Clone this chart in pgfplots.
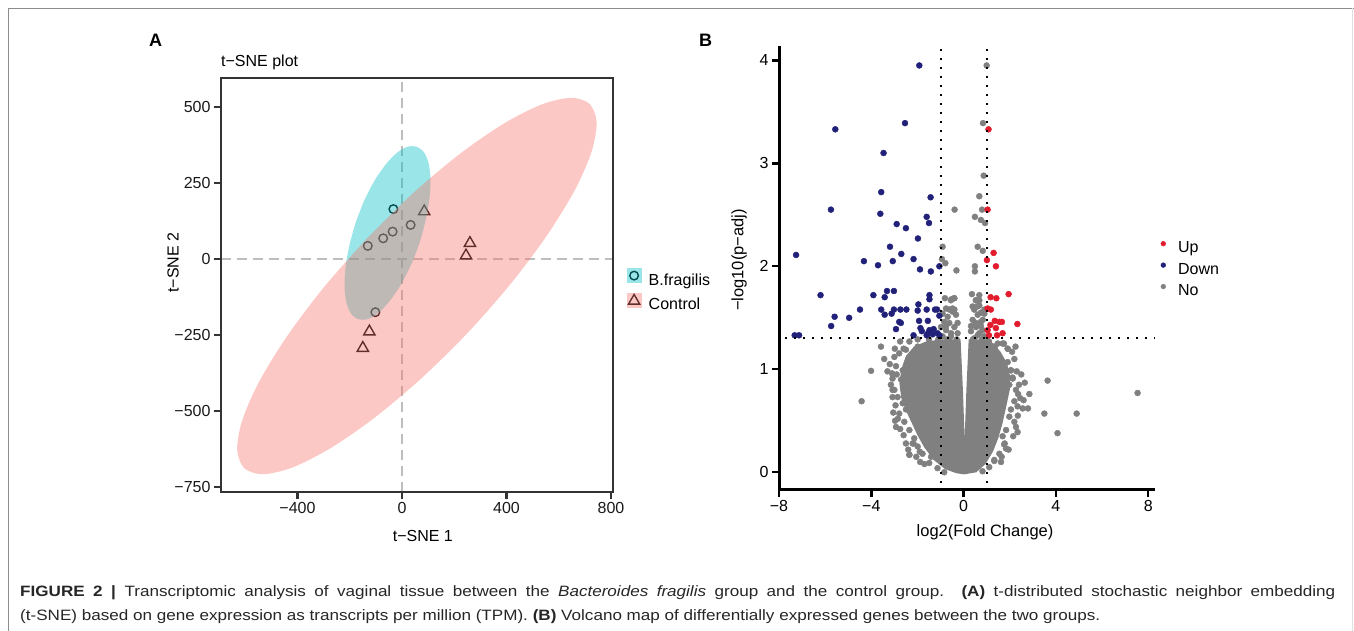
\documentclass[border=0pt]{standalone}
\usepackage{fontspec}
\setmainfont{Liberation Sans}
\usepackage{graphicx}
\usepackage{pgfplots}
\pgfplotsset{compat=1.18}

\newcommand{\fs}[1]{\fontsize{#1}{#1}\selectfont}

\definecolor{tealfill}{RGB}{0,191,196}
\definecolor{pinkfill}{RGB}{248,118,109}
\definecolor{tealkey}{RGB}{153,229,231}
\definecolor{pinkkey}{RGB}{252,200,197}
\definecolor{tealmark}{RGB}{0,76,78}
\definecolor{pinkmark}{RGB}{99,47,44}
\definecolor{dashgray}{RGB}{190,190,190}
\definecolor{upred}{RGB}{226,27,45}
\definecolor{downblue}{RGB}{33,33,122}
\definecolor{nogray}{RGB}{128,128,128}
\definecolor{frameA}{RGB}{51,51,51}

\newcommand{\capone}{\textbf{FIGURE 2}\enspace\textbf{|}\enspace Transcriptomic analysis of vaginal tissue between the \textit{Bacteroides fragilis} group and the control group. \textbf{(A)} t-distributed stochastic neighbor embedding}
\newcommand{\captwo}{(t-SNE) based on gene expression as transcripts per million (TPM). \textbf{(B)} Volcano map of differentially expressed genes between the two groups.}
\newlength\capB
\newlength\capA

\begin{document}%
\settowidth\capB{\fontsize{15}{24}\selectfont\captwo}%
\setlength\capA{\dimexpr\capB*1315/1080\relax}%
\begin{tikzpicture}
\path[use as bounding box] (0pt,0pt) rectangle (1354pt,631pt);
\draw[black!45, line width=1pt] (8.5pt,0pt) -- (8.5pt,622.5pt) -- (1354pt,622.5pt);
\draw[black!12, line width=1pt] (1352.5pt,0pt) -- (1352.5pt,622.5pt);

\node[anchor=base west, inner sep=0pt, font=\bfseries\fs{18}] at (149pt,584pt) {A};
\node[anchor=base west, inner sep=0pt, font=\bfseries\fs{18}] at (699pt,584pt) {B};
\node[anchor=base west, inner sep=0pt, font=\fs{16}] at (221pt,564pt) {t−SNE plot};

% ---------------- panel A: t-SNE ----------------
\begin{axis}[
  at={(221pt,139pt)}, anchor=south west,
  scale only axis, width=392pt, height=414pt,
  xmin=-692.9, xmax=807.7, ymin=-766.4, ymax=595.2,
  clip mode=individual,
  axis on top, separate axis lines,
  every outer x axis line/.append style={line width=2.8pt, draw=frameA, line cap=rect},
  every outer y axis line/.append style={line width=2.8pt, draw=frameA, line cap=rect},
  tick pos=left, tick align=outside, major tick length=7pt,
  tick style={line width=2.2pt, draw=frameA},
  xtick={-400,0,400,800}, xticklabels={−400,0,400,800},
  ytick={-750,-500,-250,0,250,500},
  yticklabels={−750,−500,−250,0,250,500},
  tick label style={font=\fs{16}, text=black!90},
  xlabel={t−SNE 1}, ylabel={t−SNE 2},
  every axis x label/.style={at={(axis description cs:0.515,-0.1063)}, anchor=center, font=\fs{16}},
  every axis y label/.style={at={(axis description cs:-0.1224,0.554)}, anchor=center, rotate=90, font=\fs{16}},
  legend style={at={(1,0.486)}, anchor=west, xshift=13.7pt, draw=none, fill=none,
    inner sep=0pt, row sep=4.5pt, column sep=0pt, font=\fs{16},
    nodes={inner sep=0pt, text height=12pt, text depth=3.5pt}},
  legend cell align=left,
  legend entries={B.fragilis,Control},
]
\addlegendimage{legend image code/.code={
  \fill[tealkey] (0pt,-1.8pt) rectangle (14pt,12.2pt);
  \draw[tealmark, line width=1.4pt] (7pt,5.2pt) circle (4.3pt);
  \path[draw=none, fill=none] (0pt,-3.5pt) rectangle (21.6pt,12pt);}}
\addlegendimage{legend image code/.code={
  \fill[pinkkey] (0pt,-1.8pt) rectangle (14pt,12.2pt);
  \draw[pinkmark, line width=1.4pt, line join=miter] (7pt,11pt) -- (12.6pt,1.3pt) -- (1.4pt,1.3pt) -- cycle;
  \path[draw=none, fill=none] (0pt,-3.5pt) rectangle (21.6pt,12pt);}}

% zero lines
\addplot[dashgray, line width=2.2pt, dash pattern=on 10pt off 6pt, forget plot]
  coordinates {(0,-766.4) (0,595.2)};
\addplot[dashgray, line width=2.2pt, dash pattern=on 10pt off 6pt, forget plot]
  coordinates {(-692.9,0) (807.7,0)};

% samples
\addplot[only marks, mark=o, mark size=4.3pt, black, mark options={line width=1.4pt}, forget plot]
  coordinates {(-33,164) (-131,43) (-72,68) (-36,90) (33,112) (-102,-175)};
\addplot[only marks, mark=triangle, mark size=6.5pt, black, mark options={line width=1.4pt}, forget plot]
  coordinates {(85,156) (260,52) (245,11) (-125,-239) (-150,-293)};

% confidence ellipses (outline)
\addplot[draw=none, fill=tealfill, fill opacity=0.4, smooth, forget plot] coordinates {
  (-177,121) (-201,46) (-216,-26) (-220,-90) (-213,-143) (-195,-180) (-167,-198)
  (-132,-198) (-91,-178) (-49,-140) (-6,-87) (33,-22) (66,50) (90,125) (105,197)
  (109,261) (102,314) (84,351) (56,369) (21,369) (-20,349) (-62,311) (-105,258)
  (-144,193) (-177,121)} -- cycle;
\addplot[draw=none, fill=pinkfill, fill opacity=0.4, smooth, forget plot] coordinates {
  (-135,67) (-299,-93) (-439,-253) (-546,-402) (-611,-529) (-631,-627) (-604,-688)
  (-532,-708) (-420,-686) (-275,-623) (-108,-524) (71,-395) (249,-245) (413,-85)
  (553,75) (660,224) (725,351) (745,449) (718,510) (646,530) (534,508) (389,445)
  (222,346) (43,217) (-135,67)} -- cycle;
\end{axis}

% ---------------- panel B: volcano ----------------
\begin{axis}[
  at={(779pt,141pt)}, anchor=south west,
  scale only axis, width=376pt, height=444pt,
  xmin=-8, xmax=8.295, ymin=-0.172, ymax=4.139,
  clip mode=individual,
  axis x line=bottom, axis y line=left,
  axis line style={-, line width=3pt, draw=black},
  tick align=outside, major tick length=7pt,
  tick style={line width=2.4pt, draw=black},
  xtick={-8,-4,0,4,8}, xticklabels={−8,−4,0,4,8},
  ytick={0,1,2,3,4}, yticklabels={0,1,2,3,4},
  tick label style={font=\fs{16}, text=black},
  xlabel={log2(Fold Change)}, ylabel={−log10(p−adj)},
  every axis x label/.style={at={(axis description cs:0.548,-0.0946)}, anchor=center, font=\fs{16.5}},
  every axis y label/.style={at={(axis description cs:-0.1064,0.518)}, anchor=center, rotate=90, font=\fs{16.5}},
  legend style={at={(1,0.5)}, anchor=west, xshift=5.5pt, draw=none, fill=none,
    inner sep=0pt, row sep=1.7pt, column sep=0pt, font=\fs{16},
    nodes={inner sep=0pt, text height=12pt, text depth=3.5pt}},
  legend cell align=left,
  legend entries={Up,Down,No},
]
\addlegendimage{legend image code/.code={
  \fill[upred] (2.4pt,5pt) circle (2.4pt); \path[draw=none, fill=none] (0pt,-3.5pt) rectangle (17.2pt,12pt);}}
\addlegendimage{legend image code/.code={
  \fill[downblue] (2.4pt,5pt) circle (2.4pt); \path[draw=none, fill=none] (0pt,-3.5pt) rectangle (17.2pt,12pt);}}
\addlegendimage{legend image code/.code={
  \fill[nogray] (2.4pt,5pt) circle (2.4pt); \path[draw=none, fill=none] (0pt,-3.5pt) rectangle (17.2pt,12pt);}}

% dense core of non-significant genes (outline)
\addplot[draw=none, fill=nogray, forget plot] coordinates {
  (-0.19,1.29) (-0.91,1.29) (-1.63,1.27) (-2.15,1.22) (-2.5,1.13) (-2.7,1.0)
  (-2.78,0.86) (-2.7,0.72) (-2.5,0.6) (-2.25,0.48) (-2.0,0.36) (-1.7,0.24)
  (-1.3,0.12) (-0.8,0.03) (-0.3,-0.01) (0.03,-0.02) (0.55,0.0) (0.95,0.08)
  (1.27,0.2) (1.5,0.33) (1.68,0.47) (1.85,0.64) (2.0,0.8) (2.02,0.93) (1.88,1.06)
  (1.6,1.17) (1.3,1.25) (1.0,1.29) (0.27,1.29) (0.22,1.29) (0.12,0.80) (0.045,0.32)
  (-0.03,0.80) (-0.13,1.29)} -- cycle;

% non-significant genes
\addplot[only marks, mark=*, mark size=3pt, nogray, mark options={draw=none}, forget plot] coordinates {
  (1.0,3.95) (0.84,3.39) (0.87,2.88) (0.68,2.68) (0.8,2.55) (-0.39,2.55) (0.49,2.48)
  (0.75,2.45) (0.93,2.42) (-0.91,2.19) (0.61,2.19) (0.83,2.15) (-0.94,2.07) (-0.79,2.03)
  (-0.31,1.96) (0.49,2.0) (0.49,1.95) (-0.81,1.69) (0.36,1.73) (0.53,1.67) (-0.53,1.68)
  (-0.41,1.69) (-0.76,1.59) (-0.62,1.58) (-0.48,1.59) (-0.33,1.53) (-0.4,1.58)
  (-0.69,1.51) (-0.26,1.45) (-0.76,1.42) (-0.54,1.35) (0.39,1.61) (0.6,1.61)
  (0.75,1.55) (0.39,1.48) (0.53,1.45) (0.75,1.42) (0.32,1.42) (0.68,1.35) (0.83,1.48)
  (0.9,1.58) (0.68,1.67)
  (-0.91,1.54) (-0.48,1.56) (-0.84,1.46) (-0.62,1.45) (-0.40,1.41) (-0.76,1.38)
  (-0.26,1.35) (-0.91,1.32) (-0.55,1.32) (-0.98,1.41) (-0.40,1.69) (-0.55,1.67)
  (0.54,1.67) (0.68,1.62) (0.46,1.58) (0.61,1.53) (0.75,1.46) (0.54,1.41) (0.82,1.38)
  (0.32,1.37) (0.61,1.33) (0.90,1.32) (0.46,1.30) (0.68,1.72) (0.90,1.54)
  (-3.58,1.22) (-4.01,0.985) (-4.42,0.69) (7.54,0.77) (3.64,0.89) (2.65,0.87)
  (2.85,0.76) (3.50,0.57) (4.90,0.57) (4.07,0.38) (2.36,0.76) (2.79,0.62) (2.56,0.62)
  (-2.35,0.17) (-2.17,0.28) (-1.88,0.10) (1.62,0.10) (1.33,0.11) (-3.08,0.80)
  (-3.08,0.73) (-2.97,0.50) (-2.93,0.44) (-3.44,1.1) (-3.10,0.96) (2.27,0.44)
  (2.34,0.39) (1.78,0.28) (1.84,0.23) (1.91,1.2) (2.05,0.99) (2.12,0.92)
  (-2.79,1.155) (-2.50,1.19) (-1.99,1.22) (-2.93,1.03) (-2.64,0.99) (-2.71,0.90)
  (-3.00,0.80) (-2.86,0.73) (-2.64,0.67) (-2.79,0.57) (-2.50,0.61) (-2.57,0.49)
  (-2.35,0.41) (-2.14,0.33) (-1.99,0.25) (-1.78,0.18) (-1.41,0.15) (-2.35,0.17)
  (-2.21,0.28) (-1.49,0.09) (-1.13,0.04) (-0.84,0.00) (-3.08,0.91) (-2.43,0.80)
  (-2.21,1.09) (-1.78,1.17) (-1.20,1.25) (-0.62,1.27)
  (1.91,1.07) (2.05,0.99) (2.13,0.91) (1.98,0.85) (2.27,0.80) (2.20,0.69) (2.05,0.61)
  (1.98,0.54) (1.84,0.41) (1.69,0.35) (1.76,0.27) (1.55,0.18) (1.33,0.12) (1.11,0.05)
  (0.82,0.01) (1.91,1.20) (1.69,1.25) (1.48,1.25) (2.20,0.49) (2.34,0.64)
  (-2.35,1.27) (-1.99,1.29) (-1.5,1.29) (-1.1,1.29) (-0.7,1.29) (-0.3,1.29)
  (0.4,1.29) (0.8,1.29) (1.1,1.27) (1.35,1.22)
  (-3.2,1.05) (-3.0,1.12) (-2.9,0.95) (-3.15,0.85) (-2.95,0.65) (-3.05,0.58)
  (-2.85,0.52) (-2.75,0.42) (-2.6,0.36) (-2.5,0.28) (-2.4,0.22) (-2.05,0.15)
  (-1.7,0.08) (-1.9,0.2) (-2.98,1.2) (-2.75,1.27) (-3.3,0.98) (-2.6,1.2)
  (2.2,1.1) (2.1,1.17) (2.3,0.98) (2.4,0.85) (2.45,0.72) (2.35,0.55) (2.15,0.35)
  (1.95,0.22) (1.65,0.15) (2.5,0.95) (2.25,1.22) (1.75,1.25) (2.6,0.7)};

% down-regulated
\addplot[only marks, mark=*, mark size=3pt, downblue, mark options={draw=none}, forget plot] coordinates {
  (-1.92,3.95) (-2.54,3.39) (-5.56,3.33) (-3.47,3.10) (-3.57,2.72) (-1.43,2.67)
  (-5.75,2.55) (-3.61,2.51) (-1.6,2.48) (-1.5,2.42) (-2.9,2.41) (-2.5,2.37) (-1.98,2.27)
  (-3.19,2.19) (-7.26,2.11) (-2.7,2.12) (-2.17,2.07) (-4.32,2.05) (-3.07,2.05)
  (-3.71,2.01) (-1.05,2.0) (-1.89,1.97) (-1.42,1.95) (-6.2,1.72) (-3.91,1.72)
  (-3.32,1.76) (-3.02,1.76) (-3.42,1.70) (-1.48,1.72) (-1.48,1.68) (-4.49,1.58)
  (-3.57,1.58) (-3.02,1.58) (-2.74,1.58) (-2.48,1.58) (-3.42,1.53) (-3.12,1.54)
  (-1.96,1.63) (-1.99,1.57) (-1.6,1.58) (-1.24,1.58) (-1.15,1.58) (-1.05,1.52)
  (-5.59,1.51) (-4.96,1.5) (-5.74,1.42) (-2.79,1.46) (-2.72,1.45) (-1.93,1.47)
  (-1.55,1.47) (-2.93,1.39) (-1.87,1.40) (-1.48,1.38) (-1.3,1.39) (-1.54,1.35)
  (-1.13,1.35) (-2.17,1.33) (-7.32,1.33) (-7.13,1.33) (-1.6,1.33) (-1.05,1.33)
  (-1.34,1.34) (-1.81,1.37)};

% up-regulated
\addplot[only marks, mark=*, mark size=3pt, upred, mark options={draw=none}, forget plot] coordinates {
  (1.08,3.33) (1.04,2.55) (1.3,2.13) (1.01,2.06) (1.4,2.0) (1.95,1.73) (1.17,1.70)
  (1.42,1.69) (1.04,1.59) (1.18,1.58) (2.33,1.44) (1.35,1.47) (1.55,1.46) (1.66,1.46)
  (1.16,1.43) (1.4,1.40) (1.04,1.38) (1.69,1.35) (1.1,1.33) (1.45,1.33)};

% thresholds
\addplot[black, line width=2pt, dash pattern=on 2pt off 7pt, forget plot]
  coordinates {(-1,-0.10) (-1,4.139)};
\addplot[black, line width=2pt, dash pattern=on 2pt off 7pt, forget plot]
  coordinates {(1,-0.10) (1,4.139)};
\addplot[black, line width=2pt, dash pattern=on 2pt off 7pt, forget plot]
  coordinates {(-7.73,1.301) (8.295,1.301)};
\end{axis}

% caption
\node[anchor=north west, inner sep=0pt, text=black!85] at (20pt,51.8pt)
  {\resizebox{1315pt}{\height}{\fontsize{15}{24}\selectfont
   \begin{tabular}{@{}l@{}}
   \makebox[\capA][s]{\capone}\\
   \captwo
   \end{tabular}}};
\end{tikzpicture}%
\end{document}
